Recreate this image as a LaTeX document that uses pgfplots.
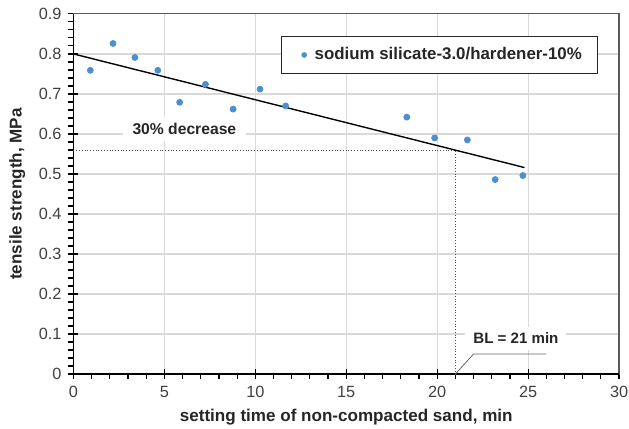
\documentclass[border=0pt]{standalone}
\usepackage{pgfplots}
\pgfplotsset{compat=1.18}
\usepackage{fontspec}
\setmainfont{Liberation Sans}
\definecolor{ptblue}{HTML}{4A90D0}
\definecolor{gridgray}{HTML}{D9D9D9}
\definecolor{ticktext}{HTML}{404040}
\definecolor{labeltext}{HTML}{262626}

\begin{document}
\begin{tikzpicture}
\useasboundingbox (-37pt,-27.5pt) rectangle (280pt,188.5pt);
\begin{axis}[
    scale only axis,
    width=275pt, height=181.5pt,
    xmin=0, xmax=30, ymin=0, ymax=0.9,
    xtick={0,5,...,30},
    ytick={0,0.1,...,0.9},
    minor x tick num=4,
    minor y tick num=4,
    yticklabel style={/pgf/number format/fixed, /pgf/number format/precision=1},
    /pgf/number format/assume math mode=true,
    tick label style={font=\fontsize{8.2}{9}\selectfont, text=ticktext},
    xtick pos=bottom, ytick pos=left,
    tick align=center,
    major tick length=5pt,
    minor tick length=2.5pt,
    minor y tick style={xshift=-1.25pt},
    minor x tick style={yshift=-1.25pt},
    tick style={black, line width=0.6pt},
    grid=major,
    grid style={gridgray, line width=0.6pt},
    axis line style={black!65, line width=0.6pt},
    xlabel={\textbf{setting time of non-compacted sand, min}},
    ylabel={\textbf{tensile strength, MPa}},
    label style={font=\fontsize{8.6}{9}\selectfont, text=labeltext},
    xlabel style={yshift=1pt},
    legend style={at={(rel axis cs:0.962,0.939)}, anchor=north east,
        draw=black!85, line width=0.6pt, font=\fontsize{8.5}{9}\selectfont\bfseries,
        text=labeltext, inner xsep=6pt, inner ysep=3.5pt},
    legend image code/.code={\fill[ptblue] (0pt,0pt) circle (1.1pt); \path (-5pt,0pt) (3pt,0pt);},
    legend cell align=left,
    clip=false,
]
% frame: left and bottom darker
\draw[black, line width=0.8pt] (rel axis cs:0,1) -- (rel axis cs:0,0) -- (rel axis cs:1,0);

% reference lines
\draw[black!70, line width=0.4pt, densely dotted] (axis cs:0,0.56) -- (axis cs:21,0.56) -- (axis cs:21,0);

% trend line
\addplot[black, line width=0.7pt, forget plot] coordinates {(0,0.800) (24.8,0.516)};

% data
\addplot[only marks, mark=*, mark size=1.5pt, color=ptblue] coordinates {
    (0.93,0.759)
    (2.18,0.826)
    (3.38,0.791)
    (4.64,0.759)
    (5.84,0.679)
    (7.26,0.724)
    (8.78,0.662)
    (10.26,0.712)
    (11.67,0.670)
    (18.33,0.642)
    (19.86,0.590)
    (21.66,0.585)
    (23.19,0.486)
    (24.71,0.496)
};
\addlegendentry{sodium silicate-3.0/hardener-10\%}

% annotations
\node[fill=white, inner xsep=5pt, inner ysep=3pt, text=labeltext, font=\fontsize{7.9}{8}\selectfont\bfseries] at (axis cs:6.1,0.612) {30\% decrease};
\draw[black!60, line width=0.4pt] (axis cs:21,0) -- (axis cs:22,0.05) -- (axis cs:26,0.05);
\node[fill=white, inner xsep=4pt, inner ysep=3pt, text=labeltext, font=\fontsize{7.6}{8}\selectfont\bfseries] at (axis cs:24.33,0.089) {BL = 21 min};
\end{axis}
\end{tikzpicture}
\end{document}
